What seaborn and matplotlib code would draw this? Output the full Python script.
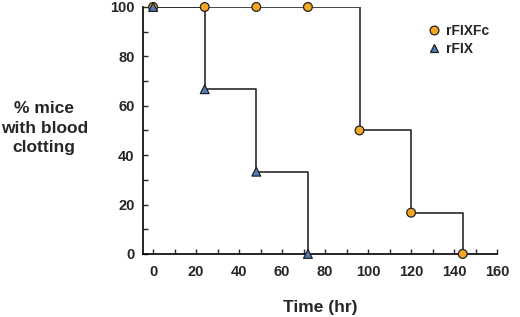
import numpy as np
import pandas as pd
import matplotlib
matplotlib.use("Agg")
import matplotlib.pyplot as plt
from matplotlib.ticker import MultipleLocator
import seaborn as sns

# survival-style data
fc_time = [0, 24, 48, 72, 96, 120, 144]
fc_pct = [100, 100, 100, 100, 50, 16.7, 0]
fix_time = [0, 24, 48, 72]
fix_pct = [100, 66.7, 33.3, 0]
groups = ["rFIXFc", "rFIX"]

df = pd.concat([
    pd.DataFrame({"time": fc_time, "pct": fc_pct, "group": groups[0]}),
    pd.DataFrame({"time": fix_time, "pct": fix_pct, "group": groups[1]}),
], ignore_index=True)

sns.set_style("ticks")
plt.rcParams["font.family"] = ["Liberation Sans", "DejaVu Sans"]
plt.rcParams["font.weight"] = "bold"

fig, ax = plt.subplots(figsize=(5.2, 3.17), dpi=100)
fig.subplots_adjust(left=0.275, right=0.956, bottom=0.199, top=0.978)

# step lines
for g in groups[::-1]:
    sub = df[df["group"] == g]
    sns.lineplot(data=sub, x="time", y="pct", ax=ax, color="#2a2a2a",
                 linewidth=1.2, drawstyle="steps-post", estimator=None,
                 legend=False, zorder=2)

# markers
palette = {"rFIXFc": "#F5A623", "rFIX": "#4F7DBA"}
markers = {"rFIXFc": "o", "rFIX": "^"}
sns.scatterplot(data=df, x="time", y="pct", hue="group", style="group",
                palette=palette, markers=markers, s=40, edgecolor="#222222",
                linewidth=0.9, ax=ax, zorder=3, clip_on=False,
                hue_order=groups, style_order=groups)
for c in ax.collections:
    c.set_clip_on(False)

ax.set_xlim(-4.7, 160)
ax.set_ylim(0, 100)
ax.xaxis.set_major_locator(MultipleLocator(20))
ax.xaxis.set_minor_locator(MultipleLocator(10))
ax.yaxis.set_major_locator(MultipleLocator(20))
ax.yaxis.set_minor_locator(MultipleLocator(10))
ax.tick_params(which="both", direction="in", length=3.5, width=1, labelsize=10.5)
ax.tick_params(axis="x", pad=8)
ax.tick_params(axis="y", pad=6)
sns.despine(ax=ax)
for s in ["left", "bottom"]:
    ax.spines[s].set_linewidth(1.2)
    ax.spines[s].set_color("black")
for lab in ax.get_xticklabels() + ax.get_yticklabels():
    lab.set_fontweight("bold")

ax.set_xlabel("Time (hr)", fontsize=12.5, fontweight="bold", labelpad=15)
ax.set_ylabel("")
fig.text(0.085, 0.596, "% mice\nwith blood\nclotting", ha="center", va="center",
         fontsize=12.5, fontweight="bold", linespacing=1.38)

leg = ax.legend(loc="upper left", bbox_to_anchor=(0.786, 0.955), frameon=False,
                handlelength=1.0, handletextpad=0.4, labelspacing=0.3,
                prop={"weight": "bold", "size": 10}, borderaxespad=0)
for h in leg.legend_handles:
    h.set_markeredgecolor("#222222")

fig.savefig("out.png", dpi=100)
